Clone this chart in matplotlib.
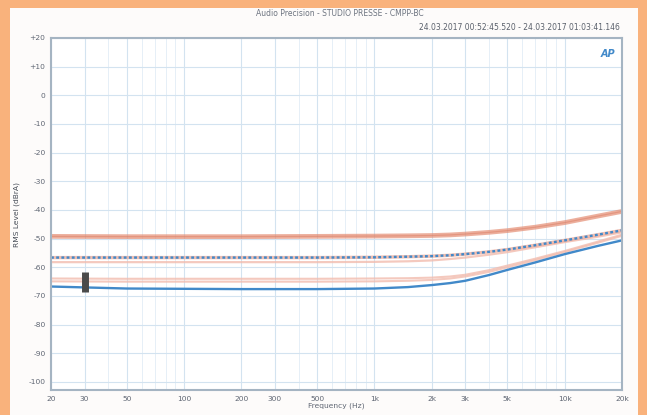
import matplotlib
matplotlib.use("Agg")
import matplotlib.pyplot as plt
from matplotlib.patches import Rectangle
from matplotlib.ticker import FixedLocator, NullFormatter

# Frequency points (Hz) shared by all traces
freq = [20, 50, 100, 200, 500, 1000, 1500, 2000, 2500, 3000, 4000, 5000, 7000, 10000, 15000, 20000]

# RMS level traces (dBrA)
level_top = [-49.2, -49.3, -49.3, -49.3, -49.2, -49.1, -49.0, -48.9, -48.7, -48.4, -47.8, -47.2, -46.0, -44.4, -42.1, -40.5]
level_dotted = [-56.6, -56.6, -56.6, -56.6, -56.6, -56.5, -56.3, -56.1, -55.8, -55.4, -54.6, -53.8, -52.3, -50.6, -48.6, -47.1]
level_mid_red = [-58.2, -58.2, -58.2, -58.2, -58.2, -58.1, -57.9, -57.6, -57.1, -56.6, -55.6, -54.7, -53.0, -51.2, -49.3, -47.8]
level_low_red_a = [-63.9, -64.0, -64.0, -64.0, -64.0, -63.9, -63.8, -63.6, -63.2, -62.6, -61.0, -59.4, -57.0, -54.3, -51.0, -48.6]
level_low_red_b = [-64.9, -65.0, -65.0, -65.0, -65.0, -64.9, -64.7, -64.4, -63.9, -63.2, -61.6, -60.0, -57.5, -54.7, -51.4, -49.0]
level_blue = [-66.7, -67.4, -67.5, -67.6, -67.6, -67.4, -66.9, -66.2, -65.5, -64.7, -62.7, -60.9, -58.3, -55.4, -52.5, -50.6]

# Cursor marker
cursor_freq = 30
cursor_range = (-68.6, -61.8)

xticks = [20, 30, 50, 100, 200, 300, 500, 1000, 2000, 3000, 5000, 10000, 20000]
xticklabels = ["20", "30", "50", "100", "200", "300", "500", "1k", "2k", "3k", "5k", "10k", "20k"]
yticks = [20, 10, 0, -10, -20, -30, -40, -50, -60, -70, -80, -90, -100]
yticklabels = ["+20", "+10", "0", "-10", "-20", "-30", "-40", "-50", "-60", "-70", "-80", "-90", "-100"]

fig = plt.figure(figsize=(6.47, 4.15), dpi=100)
fig.patch.set_facecolor("#f9b27c")
fig.patches.append(Rectangle((10 / 647, 0.0), 628 / 647, 1 - 8 / 415,
                             transform=fig.transFigure, facecolor="#fdfbfa",
                             edgecolor="none", zorder=-1))

ax = fig.add_axes([51 / 647, 1 - 390 / 415, 571 / 647, 352 / 415])
ax.set_zorder(2)
ax.set_facecolor("white")
ax.set_xscale("log")
ax.set_xlim(20, 20000)
ax.set_ylim(-102.8, 20)

salmon = "#e48e74"
pale = "#f2bcae"
blue = "#4189c9"

ax.plot(freq, level_top, color=salmon, lw=3.4, alpha=0.7, solid_capstyle="butt")
ax.plot(freq, level_top, color="#dc7c62", lw=0.9, alpha=0.5)
ax.plot(freq, level_mid_red, color=pale, lw=1.6, alpha=0.8)
ax.plot(freq, level_dotted, color="#e9a391", lw=2.4, alpha=0.7)
ax.plot(freq, level_dotted, color=blue, lw=1.7, ls=(0, (1.2, 1.0)))
ax.plot(freq, level_low_red_a, color=pale, lw=1.5, alpha=0.8)
ax.plot(freq, level_low_red_b, color=pale, lw=1.5, alpha=0.8)
ax.plot(freq, level_blue, color=blue, lw=1.7)
ax.vlines(cursor_freq, *cursor_range, color="#4a4a4a", lw=5, zorder=5)

ax.xaxis.set_major_locator(FixedLocator(xticks))
ax.xaxis.set_minor_locator(FixedLocator([40, 60, 70, 80, 90, 400, 600, 700, 800, 900,
                                         4000, 6000, 7000, 8000, 9000]))
ax.xaxis.set_minor_formatter(NullFormatter())
ax.set_xticklabels(xticklabels)
ax.set_yticks(yticks)
ax.set_yticklabels(yticklabels)
ax.grid(True, which="major", color="#d3e3f0", lw=0.8)
ax.grid(True, which="minor", axis="x", color="#e6eff7", lw=0.7)
ax.tick_params(which="both", length=0, labelsize=5.4, labelcolor="#5f6673", pad=4)
for sp in ax.spines.values():
    sp.set_color("#a5b4c2")
    sp.set_linewidth(1.5)

ax.set_xlabel("Frequency (Hz)", fontsize=5.4, color="#5f6673", labelpad=1)
ax.set_ylabel("RMS Level (dBrA)", fontsize=5.4, color="#454b55", labelpad=6)

fig.text(340 / 647, 1 - 14 / 415, "Audio Precision - STUDIO PRESSE - CMPP-BC",
         fontsize=5.5, color="#6d7480", ha="center", va="center")
fig.text(620 / 647, 1 - 28 / 415, "24.03.2017 00:52:45.520 - 24.03.2017 01:03:41.146",
         fontsize=5.5, color="#5a606b", ha="right", va="center")
ax.text(0.975, 0.955, "AP", transform=ax.transAxes, fontsize=7, color=blue,
        fontweight="bold", fontstyle="italic", ha="center", va="center")

fig.savefig("out.png", dpi=100, facecolor=fig.get_facecolor())
